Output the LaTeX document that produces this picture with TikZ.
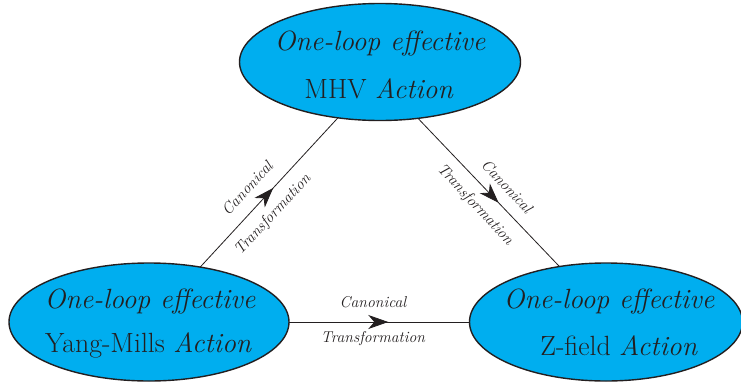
\documentclass[tikz,border=0pt]{standalone}
\usetikzlibrary{shapes.geometric,decorations.markings,arrows.meta}
\definecolor{fillc}{HTML}{00AEEF}
\definecolor{ink}{HTML}{231F20}
\begin{document}
\begin{tikzpicture}[x=1pt,y=-1pt,
  ell/.style={ellipse, draw=ink, line width=1.4pt, fill=fillc, inner sep=0pt, outer sep=0pt},
  big/.style={font=\fontsize{27.8}{33}\selectfont, text=ink, anchor=base, inner sep=0pt},
  small/.style={font=\fontsize{15.7}{18}\selectfont\itshape, text=ink, inner sep=0pt},
  conn/.style={draw=ink, line width=0.8pt},
  arrowat/.style={postaction={decorate}, decoration={markings, mark=at position #1 with {\arrow[ink]{Stealth[length=20pt,width=14pt,inset=6pt]}}}}
]
\useasboundingbox (0,0) rectangle (741,383);
\node[ell, minimum width=281pt, minimum height=117pt] (top) at (380,62) {};
\node[ell, minimum width=280pt, minimum height=118pt] (bl) at (149,322) {};
\node[ell, minimum width=273pt, minimum height=118pt] (br) at (606,322) {};

\node[big] (t1) at (380,50) {\itshape One-loop effective};
\node[big] (t2) at (379,98) {MHV \textit{Action}};
\node[big] (l1) at (150,308) {\itshape One-loop effective};
\node[big] (l2) at (148.5,352) {Yang-Mills \textit{Action}};
\node[big] (r1) at (609,308) {\itshape One-loop effective};
\node[big] (r2) at (619,355) {Z-field \textit{Action}};

\draw[conn, arrowat=0.53] (bl.47) -- (top.233.4);
\draw[conn, arrowat=0.57] (top.304.6) -- (br.130.7);
\draw[conn, arrowat=0.55] (bl) -- (br);

\node[small, rotate=47] (c1) at (247,188) {Canonical};
\node[small, rotate=47] (f1) at (273,215) {Transformation};
\node[small, rotate=-47] (c2) at (507,186) {Canonical};
\node[small, rotate=-47] (f2) at (475,205) {Transformation};
\node[small, anchor=base] (c3) at (373,307) {Canonical};
\node[small, anchor=base] (f3) at (373,342) {Transformation};
\end{tikzpicture}
\end{document}
